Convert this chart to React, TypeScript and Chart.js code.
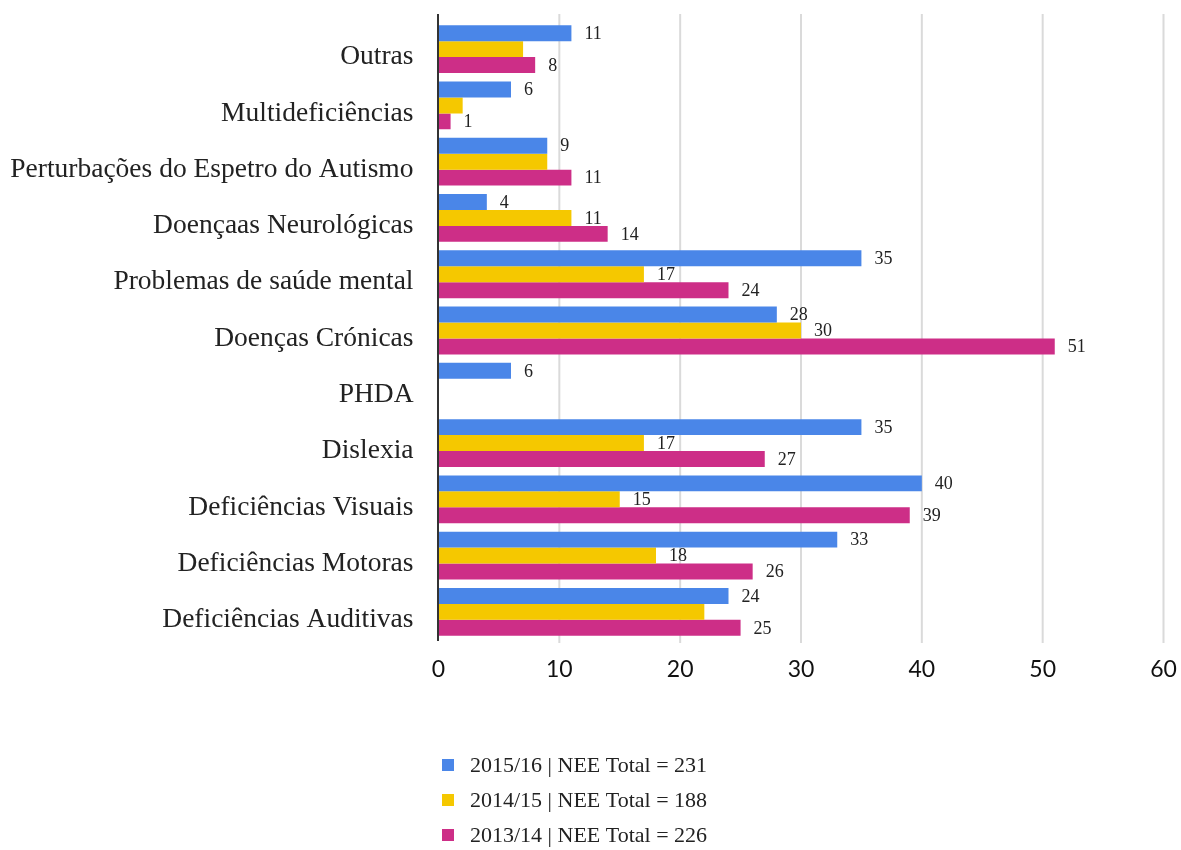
import React, { useEffect, useRef } from "react";
import { Chart, registerables } from "chart.js";

Chart.register(...registerables);

const categories = [
  "Outras",
  "Multideficiências",
  "Perturbações do Espetro do Autismo",
  "Doençaas Neurológicas",
  "Problemas de saúde mental",
  "Doenças Crónicas",
  "PHDA",
  "Dislexia",
  "Deficiências Visuais",
  "Deficiências Motoras",
  "Deficiências Auditivas",
];

const series2015 = [11, 6, 9, 4, 35, 28, 6, 35, 40, 33, 24];
const series2014 = [7, 2, 9, 11, 17, 30, null, 17, 15, 18, 22];
const series2013 = [8, 1, 11, 14, 24, 51, null, 27, 39, 26, 25];

const showLabels2015 = [true, true, true, true, true, true, true, true, true, true, true];
const showLabels2014 = [false, false, false, true, true, true, false, true, true, true, false];
const showLabels2013 = [true, true, true, true, true, true, false, true, true, true, true];

const seriesNames = [
  "2015/16 | NEE Total = 231",
  "2014/15 | NEE Total = 188",
  "2013/14 | NEE Total = 226",
];
const seriesColors = ["#4A86E8", "#F5C800", "#CD2E87"];

const xMin = 0;
const xMax = 60;
const xStep = 10;

const SERIF = "'Liberation Serif', 'DejaVu Serif', serif";

const gridPlugin = {
  id: "extendedGrid",
  beforeDatasetsDraw(chart: any) {
    const ctx = chart.ctx;
    const xs = chart.scales.x;
    const area = chart.chartArea;
    ctx.save();
    ctx.strokeStyle = "#dadada";
    ctx.lineWidth = 2;
    xs.ticks.forEach((t: any) => {
      if (t.value === 0) return;
      const px = xs.getPixelForValue(t.value);
      ctx.beginPath();
      ctx.moveTo(px, area.top - 7);
      ctx.lineTo(px, area.bottom + 3);
      ctx.stroke();
    });
    ctx.restore();
  },
  afterDatasetsDraw(chart: any) {
    const ctx = chart.ctx;
    const xs = chart.scales.x;
    const area = chart.chartArea;
    const px = xs.getPixelForValue(0);
    ctx.save();
    ctx.strokeStyle = "#333";
    ctx.lineWidth = 2;
    ctx.beginPath();
    ctx.moveTo(px - 0.5, area.top - 7);
    ctx.lineTo(px - 0.5, area.bottom + 1);
    ctx.stroke();
    ctx.restore();
  },
};

const labelPlugin = {
  id: "valueLabels",
  afterDatasetsDraw(chart: any) {
    const ctx = chart.ctx;
    const flags = [showLabels2015, showLabels2014, showLabels2013];
    ctx.save();
    ctx.font = `18px ${SERIF}`;
    ctx.fillStyle = "#222";
    ctx.textAlign = "left";
    ctx.textBaseline = "middle";
    chart.data.datasets.forEach((ds: any, di: number) => {
      const meta = chart.getDatasetMeta(di);
      meta.data.forEach((el: any, i: number) => {
        const v = ds.data[i];
        if (v === null || v === undefined || !flags[di][i]) return;
        ctx.fillText(String(v), el.x + 13, el.y + 1);
      });
    });
    ctx.restore();
  },
};

const legendPlugin = {
  id: "customLegend",
  afterDraw(chart: any) {
    const ctx = chart.ctx;
    ctx.save();
    ctx.font = `22px ${SERIF}`;
    ctx.textAlign = "left";
    ctx.textBaseline = "middle";
    chart.data.datasets.forEach((ds: any, i: number) => {
      const cy = 765 + i * 35;
      ctx.fillStyle = ds.backgroundColor;
      ctx.fillRect(442, cy - 6, 12, 12);
      ctx.fillStyle = "#222";
      ctx.fillText(ds.label, 470, cy + 1);
    });
    ctx.restore();
  },
};

export default function App() {
  const ref = useRef<HTMLCanvasElement | null>(null);

  useEffect(() => {
    if (!ref.current) return;
    const chart = new Chart(ref.current, {
      type: "bar",
      data: {
        labels: categories,
        datasets: [series2015, series2014, series2013].map((d, i) => ({
          label: seriesNames[i],
          data: d,
          backgroundColor: seriesColors[i],
          borderWidth: 0,
          categoryPercentage: 0.85,
          barPercentage: 1.0,
        })),
      },
      options: {
        indexAxis: "y",
        animation: false,
        responsive: true,
        maintainAspectRatio: false,
        layout: { padding: { top: 21, right: 17.5, bottom: 160, left: 0 } },
        plugins: {
          legend: { display: false },
          tooltip: { enabled: false },
        },
        scales: {
          y: {
            afterFit: (s: any) => {
              s.width = 438.5;
              s.paddingTop = 0;
              s.paddingBottom = 0;
            },
            ticks: {
              font: { family: SERIF, size: 27.5 },
              color: "#222",
              padding: 25,
              labelOffset: 8,
            },
            grid: { display: false, drawTicks: false },
            border: { display: false },
          },
          x: {
            min: xMin,
            max: xMax,
            afterFit: (s: any) => {
              s.height = 50;
              s.paddingLeft = 0;
              s.paddingRight = 0;
            },
            ticks: {
              stepSize: xStep,
              font: { family: "Lato, 'DejaVu Sans', sans-serif", size: 23 },
              color: "#111",
              padding: 16,
            },
            grid: { display: false, drawTicks: false },
            border: { display: false },
          },
        },
      },
      plugins: [gridPlugin, labelPlugin, legendPlugin],
    });
    return () => chart.destroy();
  }, []);

  return (
    <div style={{ position: "fixed", left: 0, top: 0, width: 1181, height: 850, background: "#fff" }}>
      <canvas ref={ref} />
    </div>
  );
}
